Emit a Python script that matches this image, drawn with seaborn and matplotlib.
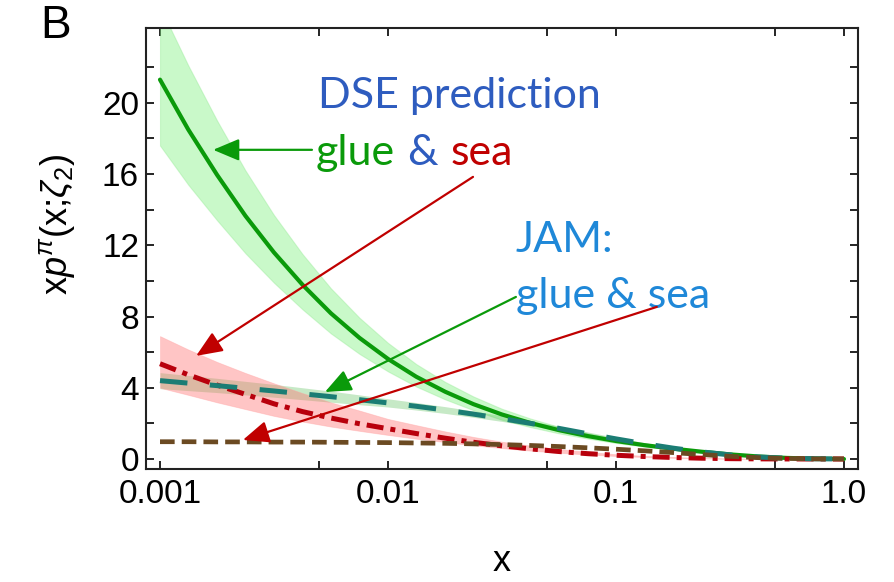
import matplotlib
matplotlib.use("Agg")
import matplotlib.pyplot as plt
from matplotlib import font_manager
import pandas as pd
import seaborn as sns

# momentum fraction grid shared by all curves
x = [0.001, 0.00133, 0.00178, 0.00237, 0.00316, 0.00422, 0.00562, 0.0075, 0.01,
     0.0133, 0.0178, 0.0237, 0.0316, 0.0422, 0.0562, 0.075, 0.1, 0.133, 0.178,
     0.237, 0.316, 0.422, 0.562, 0.75, 1.0]

# DSE prediction: glue (central value and band)
dse_glue = [21.3, 18.5, 15.95, 13.65, 11.6, 9.78, 8.18, 6.8, 5.62, 4.62, 3.78, 3.08,
            2.5, 2.02, 1.62, 1.29, 1.01, 0.78, 0.58, 0.41, 0.26, 0.14, 0.06, 0.02, 0.0]
dse_glue_hi = [25.4, 22.1, 19.0, 16.2, 13.7, 11.5, 9.58, 7.93, 6.52, 5.33, 4.33, 3.51,
               2.82, 2.27, 1.81, 1.45, 1.13, 0.87, 0.65, 0.46, 0.29, 0.16, 0.07, 0.025, 0.0]
dse_glue_lo = [17.6, 15.4, 13.4, 11.55, 9.9, 8.4, 7.05, 5.9, 4.92, 4.07, 3.35, 2.74,
               2.2, 1.79, 1.44, 1.15, 0.9, 0.7, 0.52, 0.37, 0.23, 0.12, 0.05, 0.015, 0.0]

# DSE prediction: sea (central value and band)
dse_sea = [5.35, 4.73, 4.15, 3.63, 3.1, 2.66, 2.3, 1.98, 1.7, 1.43, 1.17, 0.94,
           0.74, 0.57, 0.42, 0.3, 0.21, 0.14, 0.085, 0.045, 0.02, 0.008, 0.003, 0.001, 0.0]
dse_sea_hi = [6.9, 6.15, 5.45, 4.83, 4.25, 3.7, 3.18, 2.72, 2.25, 1.9, 1.55, 1.24,
              0.97, 0.75, 0.56, 0.4, 0.27, 0.18, 0.11, 0.06, 0.026, 0.01, 0.004, 0.001, 0.0]
dse_sea_lo = [4.0, 3.6, 3.18, 2.8, 2.42, 2.1, 1.82, 1.58, 1.35, 1.14, 0.95, 0.77,
              0.61, 0.47, 0.35, 0.25, 0.17, 0.11, 0.066, 0.035, 0.015, 0.006, 0.002, 0.001, 0.0]

# JAM fit: glue (central value and band) and sea
jam_glue = [4.4, 4.26, 4.12, 3.97, 3.82, 3.66, 3.5, 3.33, 3.15, 2.96, 2.75, 2.52,
            2.27, 2.0, 1.72, 1.42, 1.13, 0.86, 0.61, 0.4, 0.23, 0.11, 0.045, 0.013, 0.0]
jam_glue_hi = [4.85, 4.69, 4.53, 4.36, 4.19, 4.0, 3.81, 3.6, 3.38, 3.17, 2.94, 2.7,
               2.43, 2.14, 1.84, 1.52, 1.21, 0.92, 0.65, 0.43, 0.25, 0.12, 0.05, 0.015, 0.0]
jam_glue_lo = [3.95, 3.84, 3.73, 3.6, 3.47, 3.33, 3.19, 3.05, 2.92, 2.75, 2.56, 2.34,
               2.11, 1.86, 1.6, 1.32, 1.05, 0.8, 0.57, 0.37, 0.21, 0.1, 0.04, 0.011, 0.0]
jam_sea = [0.97, 0.97, 0.96, 0.96, 0.95, 0.95, 0.94, 0.93, 0.92, 0.9, 0.88, 0.85,
           0.81, 0.76, 0.7, 0.63, 0.55, 0.46, 0.36, 0.25, 0.15, 0.075, 0.03, 0.008, 0.0]

x_ticks = [0.001, 0.005, 0.01, 0.05, 0.1, 0.5, 1.0]
x_tick_labels = ["0.001", "", "0.01", "", "0.1", "", "1.0"]
y_ticks = [0, 2, 4, 6, 8, 10, 12, 14, 16, 18, 20, 22]
y_tick_labels = ["0", "", "4", "", "8", "", "12", "", "16", "", "20", ""]

df = pd.DataFrame({
    "x": x,
    "dse_glue": dse_glue, "dse_sea": dse_sea,
    "jam_glue": jam_glue, "jam_sea": jam_sea,
})

sns.set_theme(style="ticks")
installed = {f.name for f in font_manager.fontManager.ttflist}
axis_font = "Liberation Sans Narrow" if "Liberation Sans Narrow" in installed else "Liberation Sans"
plt.rcParams["font.family"] = ["Liberation Sans", "DejaVu Sans"]
plt.rcParams["mathtext.fontset"] = "custom"
plt.rcParams["mathtext.rm"] = "Liberation Sans"
plt.rcParams["mathtext.it"] = "Liberation Sans:italic"

GREEN = "#0a9a0a"
RED = "#b8000c"
TEAL = "#1b7d74"
BROWN = "#6b4a22"
BLUE = "#2e5cbf"
LIGHTBLUE = "#1f88d8"
TXT_RED = "#c00000"

fig = plt.figure(figsize=(8.94, 5.82), dpi=100)
ax = fig.add_axes([0.1633, 0.1942, 0.7964, 0.7577])
ax.set_xscale("log")

# uncertainty bands
ax.fill_between(x, dse_glue_lo, dse_glue_hi, color="#66ee66", alpha=0.35, lw=0.8,
                edgecolor="#8be88b", zorder=1)
ax.fill_between(x, jam_glue_lo, jam_glue_hi, color="#5cc05c", alpha=0.35, lw=0,
                zorder=1)
ax.fill_between(x, dse_sea_lo, dse_sea_hi, color="#ff7070", alpha=0.4, lw=0.6,
                edgecolor="#ffa0a0", zorder=1)

# central curves
sns.lineplot(data=df, x="x", y="dse_glue", ax=ax, color=GREEN, lw=3.0,
             sort=False, errorbar=None, zorder=3)
sns.lineplot(data=df, x="x", y="dse_sea", ax=ax, color=RED, lw=3.6,
             linestyle=(0, (3.4, 1.4, 1.0, 1.4)), sort=False, errorbar=None, zorder=4)
sns.lineplot(data=df, x="x", y="jam_glue", ax=ax, color=TEAL, lw=3.6,
             linestyle=(0, (5.5, 4.5)), sort=False, errorbar=None, zorder=5)
sns.lineplot(data=df, x="x", y="jam_sea", ax=ax, color=BROWN, lw=3.4,
             linestyle=(0, (3.1, 1.5)), sort=False, errorbar=None, zorder=6)

ax.set_xlim(8.68e-4, 1.152)
ax.set_ylim(-0.56, 24.2)
ax.set_xticks(x_ticks)
ax.set_xticklabels(x_tick_labels, family=[axis_font, "DejaVu Sans"])
ax.minorticks_off()
ax.set_yticks(y_ticks)
ax.set_yticklabels(y_tick_labels, family=[axis_font, "DejaVu Sans"])
label_size = 27 if axis_font == "Liberation Sans Narrow" else 24
ax.tick_params(axis="both", which="both", direction="in", top=True, right=True,
               length=5.5, width=1.2, color="black", labelsize=label_size,
               labelcolor="black")
ax.tick_params(axis="x", pad=7)
ax.tick_params(axis="y", pad=5)
for sp in ax.spines.values():
    sp.set_linewidth(1.5)
    sp.set_color("#222222")

ax.set_xlabel("x", fontsize=26, color="black")
ax.xaxis.set_label_coords(0.5, -0.17)
ax.set_ylabel(r"x$p^{\pi}$(x;$\zeta_2$)", fontsize=26, color="black")
ax.yaxis.set_label_coords(-0.095, 0.555)

fig.text(40 / 894, 1 - 4 / 582, "B", fontsize=33, va="top", ha="left", color="black")

# annotations
afont = dict(family=["Lato", "DejaVu Sans"], fontsize=31)
ax.text(0.00493, 19.72, "DSE prediction", color=BLUE, va="baseline", ha="left", **afont)
t1 = ax.text(0.00483, 16.52, "glue", color=GREEN, va="baseline", ha="left", **afont)
t2 = ax.annotate("&", xy=(1, 16.52), xycoords=(t1, "data"), xytext=(9, 0),
                 textcoords="offset points", color=BLUE, va="baseline", ha="left", **afont)
ax.annotate("sea", xy=(1, 16.52), xycoords=(t2, "data"), xytext=(9, 0),
            textcoords="offset points", color=TXT_RED, va="baseline", ha="left", **afont)
ax.text(0.0364, 11.63, "JAM:", color=LIGHTBLUE, va="baseline", ha="left", **afont)
ax.text(0.0364, 8.48, "glue & sea", color=LIGHTBLUE, va="baseline", ha="left", **afont)

def arrow(tail, head, color):
    ax.annotate("", xy=head, xytext=tail, zorder=8,
                arrowprops=dict(arrowstyle="-|>,head_length=1.0,head_width=0.42",
                                mutation_scale=16, color=color, lw=1.6,
                                shrinkA=0, shrinkB=0))

arrow((0.00464, 17.36), (0.00171, 17.36), GREEN)
arrow((0.0236, 15.84), (0.00144, 5.79), TXT_RED)
arrow((0.0364, 9.10), (0.00529, 3.76), GREEN)
arrow((0.151, 8.54), (0.00231, 1.07), TXT_RED)

fig.savefig("out.png", dpi=100, facecolor="white")
